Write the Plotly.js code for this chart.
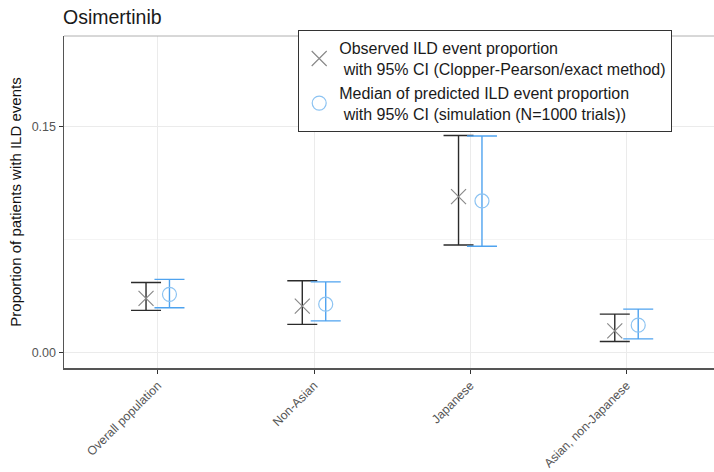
<!DOCTYPE html>
<html>
<head>
<meta charset="utf-8">
<script src="https://cdn.plot.ly/plotly-3.0.1.min.js"></script>
<style>html,body{margin:0;padding:0;background:#fff;}#chart{width:714px;height:472px;}</style>
</head>
<body>
<div id="chart"></div>
<script>
const categories = ['Overall population', 'Non-Asian', 'Japanese', 'Asian, non-Japanese'];
const observed = [0.0361, 0.0310, 0.1036, 0.0146];
const observedLow = [0.0282, 0.0189, 0.0715, 0.0076];
const observedHigh = [0.0467, 0.0478, 0.1441, 0.0257];
const predicted = [0.0388, 0.0323, 0.1007, 0.0184];
const predictedLow = [0.0299, 0.0212, 0.0707, 0.0093];
const predictedHigh = [0.0487, 0.0471, 0.1437, 0.0290];
const yTickVals = [0, 0.15];
const yTickText = ['0.00', '0.15'];

const dodge = 0.075;
const pos = categories.map((c, i) => i + 1);
const FONT = '"Liberation Sans", Arial, sans-serif';

const traceObs = {
  type: 'scatter', mode: 'markers',
  name: 'Observed ILD event proportion<br>\u00a0with 95% CI (Clopper-Pearson/exact method)',
  x: pos.map(p => p - dodge), y: observed,
  text: categories,
  marker: {symbol: 'x-thin-open', size: 15, color: '#8a8a8a', line: {width: 1.2, color: '#8a8a8a'}},
  error_y: {type: 'data', symmetric: false,
    array: observedHigh.map((v, i) => v - observed[i]),
    arrayminus: observed.map((v, i) => v - observedLow[i]),
    color: '#2b2b2b', thickness: 1.4, width: 15}
};
const tracePred = {
  type: 'scatter', mode: 'markers',
  name: 'Median of predicted ILD event proportion<br>\u00a0with 95% CI (simulation (N=1000 trials))',
  x: pos.map(p => p + dodge), y: predicted,
  text: categories,
  marker: {symbol: 'circle-open', size: 14, color: '#8cc3f2', line: {width: 1.2, color: '#8cc3f2'}},
  error_y: {type: 'data', symmetric: false,
    array: predictedHigh.map((v, i) => v - predicted[i]),
    arrayminus: predicted.map((v, i) => v - predictedLow[i]),
    color: '#4fa3ef', thickness: 1.4, width: 15}
};

const layout = {
  width: 714, height: 472,
  margin: {l: 64, r: 0, t: 36, b: 104},
  paper_bgcolor: '#ffffff', plot_bgcolor: '#ffffff',
  font: {family: FONT, color: '#222'},
  title: {text: 'Osimertinib', x: 63 / 714, xanchor: 'left', xref: 'container',
    y: 1 - 17 / 472, yanchor: 'middle', yref: 'container',
    font: {family: FONT, size: 19.5, color: '#1a1a1a'}},
  showlegend: true,
  legend: {x: (298 - 64) / 650, y: 1 + 6 / 332, xanchor: 'left', yanchor: 'top',
    bgcolor: '#ffffff', bordercolor: '#333', borderwidth: 1.2, itemwidth: 30,
    font: {family: FONT, size: 16, color: '#1a1a1a'}, tracegroupgap: 0},
  xaxis: {
    range: [0.4, 4.56], tickmode: 'array', tickvals: pos, ticktext: categories,
    tickangle: -45, tickfont: {family: FONT, size: 12.3, color: '#555'},
    ticks: 'outside', ticklen: 4, tickcolor: '#333', tickwidth: 1,
    showgrid: true, gridcolor: '#ebebeb', gridwidth: 1,
    showline: true, linecolor: '#555', linewidth: 1.5, zeroline: false
  },
  yaxis: {
    range: [-0.01, 0.21], tickmode: 'array', tickvals: yTickVals, ticktext: yTickText,
    tickfont: {family: FONT, size: 12.5, color: '#555'},
    ticks: 'outside', ticklen: 4, tickcolor: '#333', tickwidth: 1,
    showgrid: true, gridcolor: '#ebebeb', gridwidth: 1,
    minor: {tickvals: [0.075], showgrid: true, gridcolor: '#f4f4f4', gridwidth: 1, ticks: ''},
    showline: true, linecolor: '#555', linewidth: 1.5, zeroline: false,
    title: {text: 'Proportion of patients with ILD events', standoff: 6,
      font: {family: FONT, size: 15, color: '#111'}}
  },
  shapes: [
    {type: 'line', xref: 'paper', yref: 'paper', x0: 0, x1: 1, y0: 1, y1: 1,
     line: {color: '#b0b0b0', width: 1}}
  ]
};

Plotly.newPlot('chart', [traceObs, tracePred], layout, {displayModeBar: false, staticPlot: true});
</script>
</body>
</html>
